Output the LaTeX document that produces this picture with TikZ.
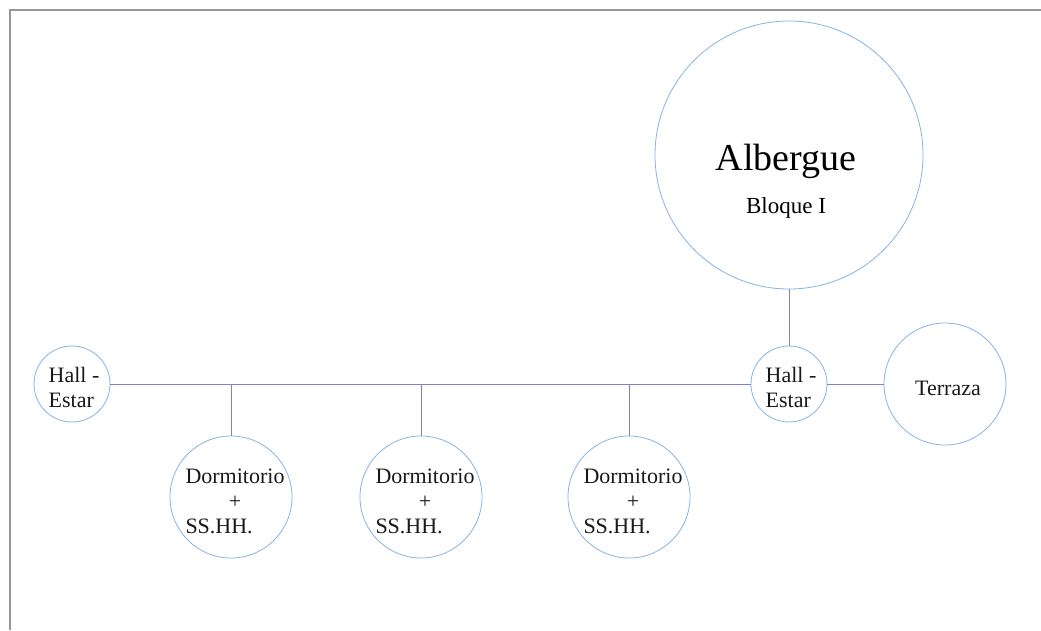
\documentclass[tikz,border=0pt]{standalone}
\usepackage{fontspec}
\setmainfont{Liberation Serif}
\begin{document}
\begin{tikzpicture}[x=1pt,y=-1pt,
  room/.style={circle,draw=circ,line width=0.8pt,inner sep=0pt,minimum size=#1},
  link/.style={draw=linkc,line width=1pt},
  txt/.style={inner sep=0pt,font=\fontsize{22}{25}\selectfont,text=black!90}]
\definecolor{circ}{RGB}{135,178,226}
\definecolor{linkc}{RGB}{128,128,204}
\definecolor{frame}{RGB}{150,150,150}
\useasboundingbox (0,0) rectangle (1041,630);
\draw[frame,line width=1.6pt] (10,630) -- (10,10) -- (1041,10);
% nodes
\node[room=268pt] (alb) at (789,155) {};
\node[anchor=base,inner sep=0pt,font=\fontsize{38}{40}\selectfont] (albt) at (786,170) {Albergue};
\node[anchor=base,inner sep=0pt,font=\fontsize{23}{25}\selectfont] (albs) at (786,213) {Bloque I};
\node[room=76pt] (hr) at (789,384) {};
\node[txt,align=left] (hrt) at (791,387) {Hall -\\Estar};
\node[room=76pt] (hl) at (72,384) {};
\node[txt,align=left] (hlt) at (74,387) {Hall -\\Estar};
\node[room=122pt] (ter) at (945,384) {};
\node[txt] (tert) at (948,388) {Terraza};
\foreach \n/\x in {d1/231,d2/421,d3/629}{
  \node[room=122pt] (\n) at (\x,497) {};
  \node[txt] (\n t) at (\x+4,503) {\begin{tabular}{@{}l@{}}Dormitorio\\[0pt]\multicolumn{1}{@{}c@{}}{+}\\SS.HH.\end{tabular}};
}
% connectors
\draw[link] (alb) -- (hr);
\draw[link] (hl) -- (hr);
\draw[link] (hr) -- (ter);
\foreach \n in {d1,d2,d3}{
  \draw[link] (\n.north) -- (\n.north |- hl.east);
}
\end{tikzpicture}
\end{document}
